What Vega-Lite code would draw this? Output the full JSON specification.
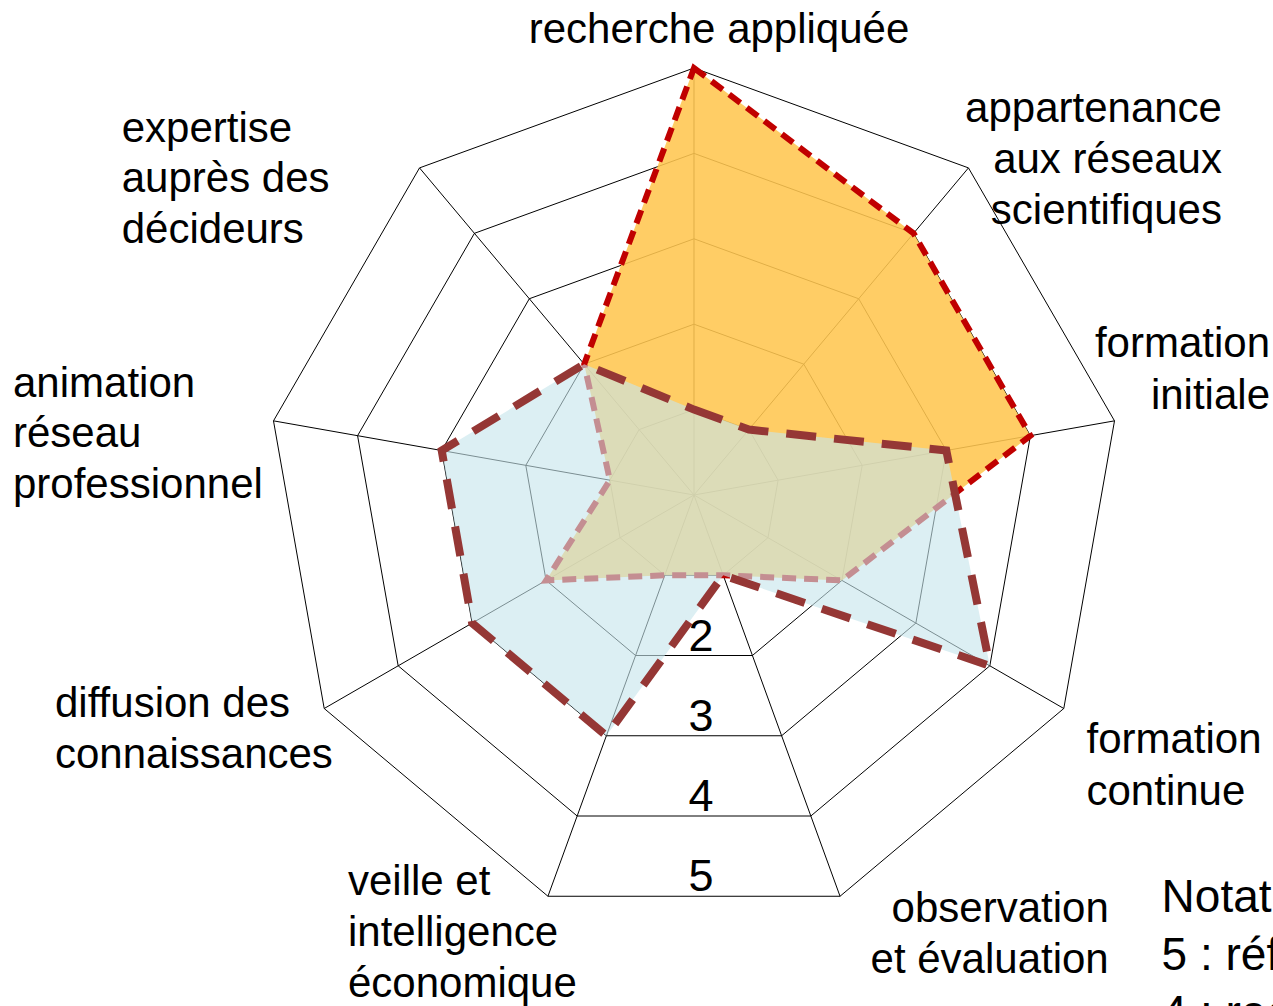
{
  "$schema": "https://vega.github.io/schema/vega-lite/v6.json",
  "width": 1273,
  "height": 1006,
  "padding": 0,
  "autosize": {"type": "none"},
  "background": "white",
  "config": {"view": {"stroke": null}, "font": "Liberation Sans", "text": {"font": "Liberation Sans", "color": "black"}},
  "datasets": {
    "axes": [
      {"idx": 0, "label": "recherche appliquée"},
      {"idx": 1, "label": "appartenance\naux réseaux\nscientifiques"},
      {"idx": 2, "label": "formation\ninitiale"},
      {"idx": 3, "label": "formation\ncontinue"},
      {"idx": 4, "label": "observation\net évaluation"},
      {"idx": 5, "label": "veille et\nintelligence\néconomique"},
      {"idx": 6, "label": "diffusion des\nconnaissances"},
      {"idx": 7, "label": "animation\nréseau\nprofessionnel"},
      {"idx": 8, "label": "expertise\nauprès des\ndécideurs"}
    ],
    "niveaux": [
      {"niveau": 1, "idx": [0, 1, 2, 3, 4, 5, 6, 7, 8]},
      {"niveau": 2, "idx": [0, 1, 2, 3, 4, 5, 6, 7, 8]},
      {"niveau": 3, "idx": [0, 1, 2, 3, 4, 5, 6, 7, 8]},
      {"niveau": 4, "idx": [0, 1, 2, 3, 4, 5, 6, 7, 8]},
      {"niveau": 5, "idx": [0, 1, 2, 3, 4, 5, 6, 7, 8]}
    ],
    "notes": [
      {"profil": "A", "idx": 0, "axe": "recherche appliquée", "note": 5},
      {"profil": "A", "idx": 1, "axe": "appartenance aux réseaux scientifiques", "note": 4},
      {"profil": "A", "idx": 2, "axe": "formation initiale", "note": 4},
      {"profil": "A", "idx": 3, "axe": "formation continue", "note": 2},
      {"profil": "A", "idx": 4, "axe": "observation et évaluation", "note": 1},
      {"profil": "A", "idx": 5, "axe": "veille et intelligence économique", "note": 1},
      {"profil": "A", "idx": 6, "axe": "diffusion des connaissances", "note": 2},
      {"profil": "A", "idx": 7, "axe": "animation réseau professionnel", "note": 1},
      {"profil": "A", "idx": 8, "axe": "expertise auprès des décideurs", "note": 2},
      {"profil": "B", "idx": 0, "axe": "recherche appliquée", "note": 1},
      {"profil": "B", "idx": 1, "axe": "appartenance aux réseaux scientifiques", "note": 1},
      {"profil": "B", "idx": 2, "axe": "formation initiale", "note": 3},
      {"profil": "B", "idx": 3, "axe": "formation continue", "note": 4},
      {"profil": "B", "idx": 4, "axe": "observation et évaluation", "note": 1},
      {"profil": "B", "idx": 5, "axe": "veille et intelligence économique", "note": 3},
      {"profil": "B", "idx": 6, "axe": "diffusion des connaissances", "note": 3},
      {"profil": "B", "idx": 7, "axe": "animation réseau professionnel", "note": 3},
      {"profil": "B", "idx": 8, "axe": "expertise auprès des décideurs", "note": 2}
    ]
  },
  "encoding": {
    "x": {"field": "x", "type": "quantitative", "scale": {"domain": [-8.1265, 6.7799], "nice": false, "zero": false}, "axis": null},
    "y": {"field": "y", "type": "quantitative", "scale": {"domain": [-5.9836, 5.7963], "nice": false, "zero": false}, "axis": null}
  },
  "layer": [
    {
      "data": {"name": "niveaux"},
      "transform": [
        {"flatten": ["idx"]},
        {"calculate": "datum.niveau*sin(datum.idx*2*PI/9)", "as": "x"},
        {"calculate": "datum.niveau*cos(datum.idx*2*PI/9)", "as": "y"}
      ],
      "mark": {"type": "line", "interpolate": "linear-closed", "stroke": "black", "strokeWidth": 1},
      "encoding": {
        "detail": {"field": "niveau", "type": "nominal"},
        "order": {"field": "idx", "type": "quantitative"}
      }
    },
    {
      "data": {"name": "axes"},
      "transform": [
        {"calculate": "0", "as": "x"},
        {"calculate": "0", "as": "y"},
        {"calculate": "5*sin(datum.idx*2*PI/9)", "as": "vx"},
        {"calculate": "5*cos(datum.idx*2*PI/9)", "as": "vy"}
      ],
      "mark": {"type": "rule", "stroke": "black", "strokeWidth": 1},
      "encoding": {
        "x2": {"field": "vx"},
        "y2": {"field": "vy"}
      }
    },
    {
      "data": {"name": "notes"},
      "transform": [
        {"filter": "datum.profil === 'A'"},
        {"calculate": "datum.note*sin(datum.idx*2*PI/9)", "as": "x"},
        {"calculate": "datum.note*cos(datum.idx*2*PI/9)", "as": "y"}
      ],
      "mark": {"type": "line", "interpolate": "linear-closed", "fill": "#FFC650", "fillOpacity": 0.88, "stroke": "#C00000", "strokeWidth": 6, "strokeDash": [14, 8]},
      "encoding": {
        "order": {"field": "idx", "type": "quantitative"}
      }
    },
    {
      "data": {"name": "notes"},
      "transform": [
        {"filter": "datum.profil === 'B'"},
        {"calculate": "datum.note*sin(datum.idx*2*PI/9)", "as": "x"},
        {"calculate": "datum.note*cos(datum.idx*2*PI/9)", "as": "y"}
      ],
      "mark": {"type": "line", "interpolate": "linear-closed", "fill": "#C6E5EC", "fillOpacity": 0.62, "stroke": "#953735", "strokeOpacity": 0, "strokeWidth": 0},
      "encoding": {
        "order": {"field": "idx", "type": "quantitative"}
      }
    },
    {
      "data": {"name": "notes"},
      "transform": [
        {"filter": "datum.profil === 'B'"},
        {"calculate": "datum.note*sin(datum.idx*2*PI/9)", "as": "x"},
        {"calculate": "datum.note*cos(datum.idx*2*PI/9)", "as": "y"}
      ],
      "mark": {"type": "line", "interpolate": "linear-closed", "stroke": "#953735", "strokeWidth": 8, "strokeDash": [30, 18]},
      "encoding": {
        "order": {"field": "idx", "type": "quantitative"}
      }
    },
    {
      "data": {"name": "niveaux"},
      "transform": [
        {"filter": "datum.niveau >= 2"},
        {"calculate": "0", "as": "x"},
        {"calculate": "datum.niveau*cos(8*PI/9)", "as": "y"}
      ],
      "mark": {"type": "text", "align": "center", "baseline": "alphabetic", "dx": 7, "dy": -5, "fontSize": 45},
      "encoding": {
        "text": {"field": "niveau", "type": "quantitative"}
      }
    },
    {
      "data": {"name": "axes"},
      "transform": [{"filter": "datum.idx === 0"}, {"calculate": "5*sin(datum.idx*2*PI/9)", "as": "x"}, {"calculate": "5*cos(datum.idx*2*PI/9)", "as": "y"}],
      "mark": {"type": "text", "align": "center", "baseline": "alphabetic", "dx": 25, "dy": -25, "fontSize": 42, "lineBreak": "\n", "lineHeight": 51},
      "encoding": {"text": {"field": "label", "type": "nominal"}}
    },
    {
      "data": {"name": "axes"},
      "transform": [{"filter": "datum.idx === 1"}, {"calculate": "5*sin(datum.idx*2*PI/9)", "as": "x"}, {"calculate": "5*cos(datum.idx*2*PI/9)", "as": "y"}],
      "mark": {"type": "text", "align": "right", "baseline": "alphabetic", "dx": 253.5, "dy": -46.2, "fontSize": 42, "lineBreak": "\n", "lineHeight": 51},
      "encoding": {"text": {"field": "label", "type": "nominal"}}
    },
    {
      "data": {"name": "axes"},
      "transform": [{"filter": "datum.idx === 2"}, {"calculate": "5*sin(datum.idx*2*PI/9)", "as": "x"}, {"calculate": "5*cos(datum.idx*2*PI/9)", "as": "y"}],
      "mark": {"type": "text", "align": "right", "baseline": "alphabetic", "dx": 155.5, "dy": -63.9, "fontSize": 42, "lineBreak": "\n", "lineHeight": 52},
      "encoding": {"text": {"field": "label", "type": "nominal"}}
    },
    {
      "data": {"name": "axes"},
      "transform": [{"filter": "datum.idx === 3"}, {"calculate": "5*sin(datum.idx*2*PI/9)", "as": "x"}, {"calculate": "5*cos(datum.idx*2*PI/9)", "as": "y"}],
      "mark": {"type": "text", "align": "left", "baseline": "alphabetic", "dx": 22.7, "dy": 44.5, "fontSize": 42, "lineBreak": "\n", "lineHeight": 52},
      "encoding": {"text": {"field": "label", "type": "nominal"}}
    },
    {
      "data": {"name": "axes"},
      "transform": [{"filter": "datum.idx === 4"}, {"calculate": "5*sin(datum.idx*2*PI/9)", "as": "x"}, {"calculate": "5*cos(datum.idx*2*PI/9)", "as": "y"}],
      "mark": {"type": "text", "align": "right", "baseline": "alphabetic", "dx": 268.7, "dy": 25.5, "fontSize": 42, "lineBreak": "\n", "lineHeight": 51},
      "encoding": {"text": {"field": "label", "type": "nominal"}}
    },
    {
      "data": {"name": "axes"},
      "transform": [{"filter": "datum.idx === 5"}, {"calculate": "5*sin(datum.idx*2*PI/9)", "as": "x"}, {"calculate": "5*cos(datum.idx*2*PI/9)", "as": "y"}],
      "mark": {"type": "text", "align": "left", "baseline": "alphabetic", "dx": -200, "dy": -1.2, "fontSize": 42, "lineBreak": "\n", "lineHeight": 51},
      "encoding": {"text": {"field": "label", "type": "nominal"}}
    },
    {
      "data": {"name": "axes"},
      "transform": [{"filter": "datum.idx === 6"}, {"calculate": "5*sin(datum.idx*2*PI/9)", "as": "x"}, {"calculate": "5*cos(datum.idx*2*PI/9)", "as": "y"}],
      "mark": {"type": "text", "align": "left", "baseline": "alphabetic", "dx": -269.2, "dy": 8.2, "fontSize": 42, "lineBreak": "\n", "lineHeight": 51},
      "encoding": {"text": {"field": "label", "type": "nominal"}}
    },
    {
      "data": {"name": "axes"},
      "transform": [{"filter": "datum.idx === 7"}, {"calculate": "5*sin(datum.idx*2*PI/9)", "as": "x"}, {"calculate": "5*cos(datum.idx*2*PI/9)", "as": "y"}],
      "mark": {"type": "text", "align": "left", "baseline": "alphabetic", "dx": -260.5, "dy": -24.2, "fontSize": 42, "lineBreak": "\n", "lineHeight": 50.5},
      "encoding": {"text": {"field": "label", "type": "nominal"}}
    },
    {
      "data": {"name": "axes"},
      "transform": [{"filter": "datum.idx === 8"}, {"calculate": "5*sin(datum.idx*2*PI/9)", "as": "x"}, {"calculate": "5*cos(datum.idx*2*PI/9)", "as": "y"}],
      "mark": {"type": "text", "align": "left", "baseline": "alphabetic", "dx": -297.8, "dy": -26.2, "fontSize": 42, "lineBreak": "\n", "lineHeight": 50.5},
      "encoding": {"text": {"field": "label", "type": "nominal"}}
    },
    {
      "data": {"values": [{"texte": "Notation :\n5 : référence\n4 : reconnu", "x": 5.4754, "y": -4.8794}]},
      "mark": {"type": "text", "align": "left", "baseline": "alphabetic", "fontSize": 46, "lineBreak": "\n", "lineHeight": 58},
      "encoding": {"text": {"field": "texte", "type": "nominal"}}
    }
  ]
}
